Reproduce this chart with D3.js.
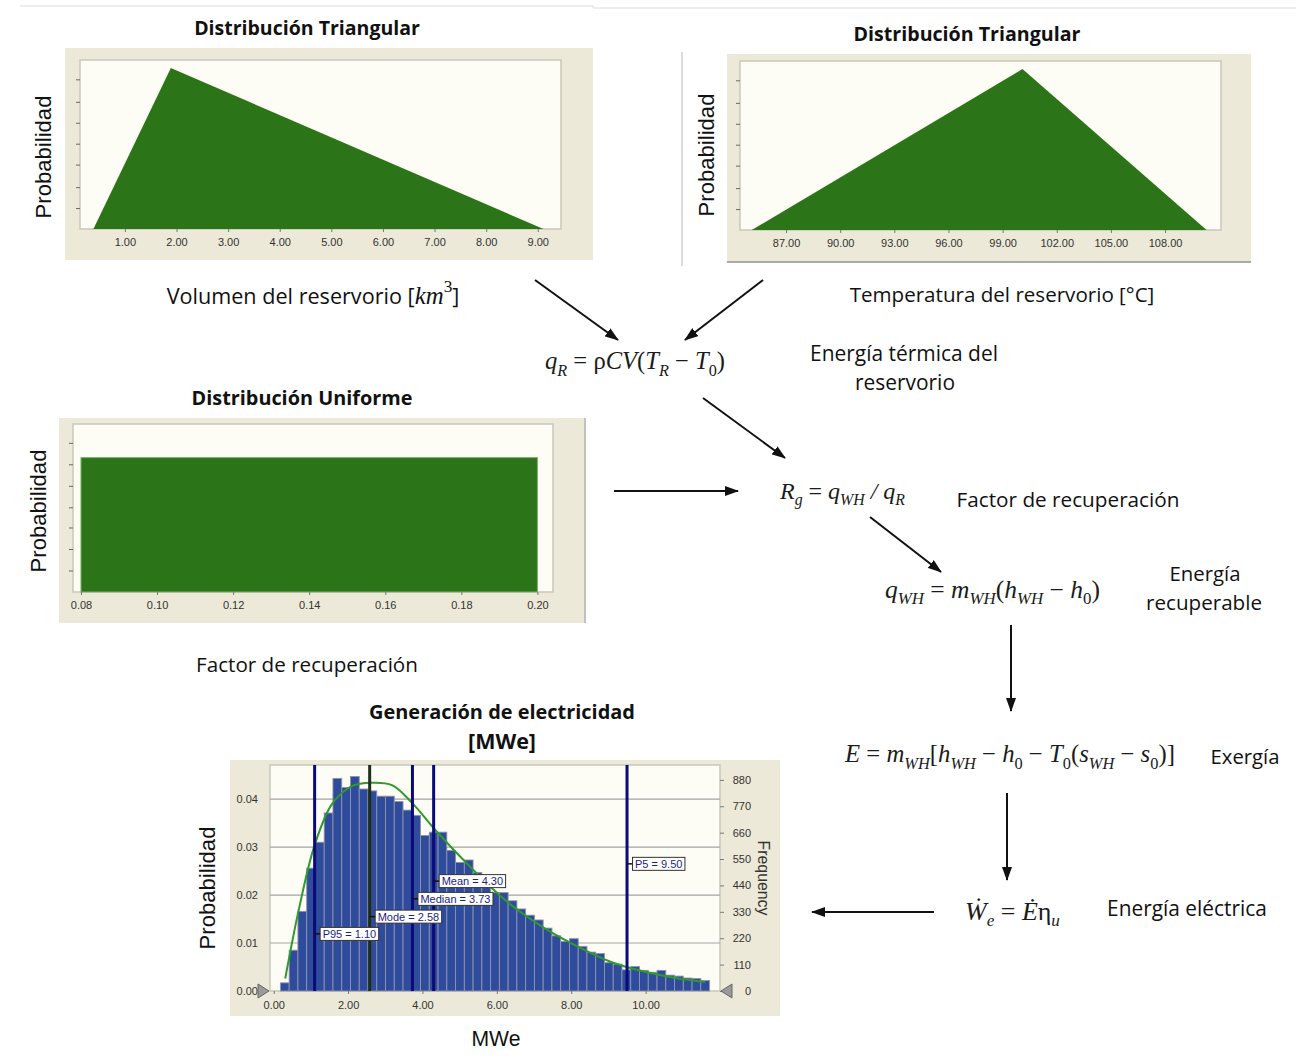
<!DOCTYPE html>
<html><head><meta charset="utf-8">
<script src="https://cdn.jsdelivr.net/npm/d3@7"></script>
<style>body{margin:0;background:#fff} text{white-space:pre}</style>
</head><body>
<svg id="c" width="1296" height="1064" xmlns="http://www.w3.org/2000/svg"></svg>
<script>
// ---------------- DATA ----------------
// Volume triangular distribution (km^3): min, mode, max
const volX = [0.39, 1.89, 9.11];
const volY = [0, 1, 0];
const volTicks = [1, 2, 3, 4, 5, 6, 7, 8, 9];
// Temperature triangular distribution (°C)
const tempX = [85.1, 100.1, 110.3];
const tempY = [0, 1, 0];
const tempTicks = [87, 90, 93, 96, 99, 102, 105, 108];
// Recovery factor uniform distribution
const rfX = [0.08, 0.20];
const rfY = 1;
const rfTicks = [0.08, 0.10, 0.12, 0.14, 0.16, 0.18, 0.20];
// Hidden y tick marks of the density panels
const triYTicks = [0.13, 0.26, 0.40, 0.53, 0.66, 0.79, 0.93];
const uniYTicks = [0.16, 0.32, 0.48, 0.63, 0.79, 0.95, 1.11];

// Electricity generation histogram (MWe)
const binStart = 0.18, binWidth = 0.2355;
const histProb = [0.0017,0.0085,0.0166,0.0256,0.0310,0.0371,0.0443,0.0424,0.0447,0.0421,
  0.0417,0.0406,0.0406,0.0395,0.0377,0.0366,0.0324,0.0331,0.0331,0.0293,
  0.0268,0.0273,0.0247,0.0232,0.0205,0.0205,0.0188,0.0171,0.0158,0.0148,
  0.0131,0.0115,0.0103,0.0109,0.0093,0.0081,0.0078,0.0059,0.0056,0.0044,
  0.0051,0.0043,0.0039,0.0043,0.0033,0.0031,0.0027,0.0026,0.0022];
const fitX = [0.31,0.67,1.10,1.57,2.10,2.64,3.18,3.72,4.35,5.33,6.23,7.30,8.19,9.09,9.98,10.88,11.60];
const fitY = [0.0026,0.0168,0.0304,0.0390,0.0427,0.0434,0.0429,0.0392,0.0335,0.0255,0.0189,0.0130,0.0092,0.0060,0.0040,0.0026,0.0019];
const statNames = ["P95", "Mode", "Median", "Mean", "P5"];
const statValues = [1.10, 2.58, 3.73, 4.30, 9.50];
const statLabelY = [0.0119, 0.0155, 0.0192, 0.0229, 0.0265];
const histXTicks = [0, 2, 4, 6, 8, 10];
const histYTicks = [0, 0.01, 0.02, 0.03, 0.04];
const freqTicks = [0, 110, 220, 330, 440, 550, 660, 770, 880];

// ---------------- STYLE ----------------
const BEIGE = '#ECE9D8', CREAM = '#FDFCF5', GREEN = '#2C7418', PLOTBORDER = '#C9C7BA';
const SANS = '"Liberation Sans", Arial, sans-serif';
const UI = '"Open Sans", "Noto Sans", sans-serif';
const SERIF = '"Liberation Serif", "DejaVu Serif", serif';

const svg = d3.select('#c');
const defs = svg.append('defs');
defs.append('marker').attr('id', 'ah').attr('viewBox', '0 0 14 10')
  .attr('refX', 13).attr('refY', 5).attr('markerWidth', 7).attr('markerHeight', 5)
  .attr('orient', 'auto').append('path').attr('d', 'M0,0L14,5L0,10Z').attr('fill', '#111');

// faint frame lines of the composite image
svg.append('path').attr('d', 'M20,6H593V8H1296').attr('fill', 'none').attr('stroke', '#dcdcdc');
svg.append('line').attr('x1', 682).attr('x2', 682).attr('y1', 52).attr('y2', 266).attr('stroke', '#d0d0d0').attr('stroke-width', 1.5);

function fitText(sel, w, base) {
  sel.attr('font-size', base);
  const l = sel.node().getComputedTextLength();
  sel.attr('font-size', base * w / l);
  return sel;
}
function label(txt, cx, cy, w, opts = {}) {
  const t = svg.append('text').attr('x', cx).attr('y', cy)
    .attr('text-anchor', 'middle').attr('dominant-baseline', 'central')
    .attr('font-family', opts.family || UI).attr('font-weight', opts.bold ? 700 : 400)
    .attr('fill', opts.fill || '#111').text(txt);
  fitText(t, w, 20);
  if (opts.rotate) t.attr('transform', `rotate(${opts.rotate},${cx},${cy})`);
  return t;
}

function densityPanel(cfg) {
  const g = svg.append('g');
  g.append('rect').attr('x', cfg.panel[0]).attr('y', cfg.panel[1])
    .attr('width', cfg.panel[2] - cfg.panel[0]).attr('height', cfg.panel[3] - cfg.panel[1]).attr('fill', BEIGE);
  const [px0, py0, px1, py1] = cfg.plot;
  const x = d3.scaleLinear().domain(cfg.xDomain).range([px0, px1]);
  const y = d3.scaleLinear().domain([0, cfg.yMax]).range([py1, py0]);
  g.append('rect').attr('x', px0).attr('y', py0).attr('width', px1 - px0).attr('height', py1 - py0)
    .attr('fill', CREAM).attr('stroke', PLOTBORDER).attr('stroke-width', 1.5);
  if (cfg.area) {
    g.append('path').datum(cfg.area)
      .attr('d', d3.area().x(d => x(d[0])).y0(y(0)).y1(d => y(d[1])))
      .attr('fill', GREEN);
  } else {
    g.append('rect').attr('x', x(cfg.rect[0])).attr('y', y(cfg.rect[2]))
      .attr('width', x(cfg.rect[1]) - x(cfg.rect[0])).attr('height', y(0) - y(cfg.rect[2]))
      .attr('fill', GREEN).attr('stroke', '#7fae6c').attr('stroke-width', 1);
  }
  const ax = g.append('g').attr('transform', `translate(0,${py1})`)
    .call(d3.axisBottom(x).tickValues(cfg.ticks).tickFormat(d3.format(cfg.fmt)).tickSize(3).tickPadding(6));
  ax.select('.domain').remove();
  ax.selectAll('line').attr('stroke', '#777');
  ax.selectAll('text').attr('font-family', SANS).attr('font-size', 11).attr('fill', '#333');
  const ay = g.append('g').attr('transform', `translate(${px0},0)`)
    .call(d3.axisLeft(y).tickValues(cfg.yTicks).tickFormat('').tickSize(4));
  ay.select('.domain').remove();
  ay.selectAll('line').attr('stroke', '#666');
}

// Top-left: volume
densityPanel({ panel: [65, 48, 593, 260], plot: [80, 60, 561, 229], xDomain: [0.13, 9.45], yMax: 1.05,
  area: volX.map((v, i) => [v, volY[i]]), ticks: volTicks, fmt: '.2f', yTicks: triYTicks });
// Top-right: temperature
densityPanel({ panel: [727, 54, 1251, 262], plot: [740, 61, 1221, 230], xDomain: [84.45, 111.1], yMax: 1.05,
  area: tempX.map((v, i) => [v, tempY[i]]), ticks: tempTicks, fmt: '.2f', yTicks: triYTicks });
svg.append('line').attr('x1', 727).attr('x2', 1251).attr('y1', 262).attr('y2', 262).attr('stroke', '#a9a9a9').attr('stroke-width', 2);
// Uniform: recovery factor
densityPanel({ panel: [59, 418, 586, 623], plot: [73, 424, 553, 592], xDomain: [0.0779, 0.2041], yMax: 1.25,
  rect: [rfX[0], rfX[1], rfY], ticks: rfTicks, fmt: '.2f', yTicks: uniYTicks });
svg.append('line').attr('x1', 585).attr('x2', 585).attr('y1', 418).attr('y2', 623).attr('stroke', '#b5b5b5').attr('stroke-width', 1.5);

// ---------------- Histogram ----------------
const hg = svg.append('g');
hg.append('rect').attr('x', 230).attr('y', 760).attr('width', 550).attr('height', 256).attr('fill', BEIGE);
const hx = d3.scaleLinear().domain([-0.1, 12.0]).range([270, 720]);
const hy = d3.scaleLinear().domain([0, 0.0471]).range([991, 765]);
const hf = d3.scaleLinear().domain([0, 942]).range([991, 765]);
hg.append('rect').attr('x', 270).attr('y', 765).attr('width', 450).attr('height', 226)
  .attr('fill', CREAM).attr('stroke', PLOTBORDER).attr('stroke-width', 1.5);
hg.append('g').selectAll('line').data(histYTicks.slice(1)).join('line')
  .attr('x1', 270).attr('x2', 720).attr('y1', d => hy(d)).attr('y2', d => hy(d))
  .attr('stroke', '#a4a4a4').attr('stroke-width', 1.2);
hg.append('g').selectAll('rect').data(histProb).join('rect')
  .attr('x', (d, i) => hx(binStart + i * binWidth)).attr('width', hx(binWidth) - hx(0))
  .attr('y', d => hy(d)).attr('height', d => hy(0) - hy(d))
  .attr('fill', '#2F4B9C').attr('stroke', '#8E93AE').attr('stroke-width', 0.9);
hg.append('path').datum(fitX.map((v, i) => [v, fitY[i]]))
  .attr('d', d3.line().x(d => hx(d[0])).y(d => hy(d[1])).curve(d3.curveCatmullRom))
  .attr('fill', 'none').attr('stroke', '#2E9A2E').attr('stroke-width', 2);
statValues.forEach((v, i) => {
  hg.append('line').attr('x1', hx(v)).attr('x2', hx(v)).attr('y1', 765).attr('y2', 991)
    .attr('stroke', statNames[i] === 'Mode' ? '#1E2E1A' : '#0A0A78').attr('stroke-width', 3);
});
statValues.forEach((v, i) => {
  const lx = hx(v), ly = hy(statLabelY[i]);
  const txt = hg.append('text').attr('x', lx + 8).attr('y', ly).attr('dominant-baseline', 'central')
    .attr('font-family', SANS).attr('font-size', 11).attr('fill', '#1C1C88')
    .text(`${statNames[i]} = ${v.toFixed(2)}`);
  const w = txt.node().getComputedTextLength();
  hg.insert('rect', () => txt.node()).attr('x', lx + 5.5).attr('y', ly - 6.5).attr('width', w + 5).attr('height', 13)
    .attr('fill', '#fff').attr('stroke', '#333').attr('stroke-width', 1);
  hg.append('line').attr('x1', lx).attr('x2', lx + 5.5).attr('y1', ly).attr('y2', ly).attr('stroke', '#111').attr('stroke-width', 1.5);
});
const hax = hg.append('g').attr('transform', 'translate(0,991)')
  .call(d3.axisBottom(hx).tickValues(histXTicks).tickFormat(d3.format('.2f')).tickSize(3).tickPadding(7));
hax.select('.domain').remove();
hax.selectAll('line').attr('stroke', '#777');
hax.selectAll('text').attr('font-family', SANS).attr('font-size', 11).attr('fill', '#333');
const hay = hg.append('g').attr('transform', 'translate(270,0)')
  .call(d3.axisLeft(hy).tickValues(histYTicks).tickFormat(d3.format('.2f')).tickSize(0).tickPadding(12));
hay.select('.domain').remove();
hay.selectAll('text').attr('font-family', SANS).attr('font-size', 11).attr('fill', '#333');
const haf = hg.append('g').attr('transform', 'translate(720,0)')
  .call(d3.axisRight(hf).tickValues(freqTicks).tickSize(4).tickPadding(5));
haf.select('.domain').remove();
haf.selectAll('line').attr('stroke', '#777');
haf.selectAll('text').attr('font-family', SANS).attr('font-size', 11).attr('fill', '#333')
  .attr('text-anchor', 'end').attr('x', 31);
// slider markers
hg.append('path').attr('d', 'M258,984L269,991L258,998Z').attr('fill', '#9a9a9a').attr('stroke', '#666');
hg.append('path').attr('d', 'M732,984L721,991L732,998Z').attr('fill', '#9a9a9a').attr('stroke', '#666');
const fq = hg.append('text').attr('x', 763).attr('y', 878).attr('text-anchor', 'middle').attr('dominant-baseline', 'central')
  .attr('font-family', SANS).attr('fill', '#333').text('Frequency');
fitText(fq, 75, 15).attr('transform', 'rotate(90,763,878)');

// ---------------- Titles & labels ----------------
label('Distribución Triangular', 307, 27, 226, { bold: true });
label('Distribución Triangular', 967, 33, 227, { bold: true });
label('Distribución Uniforme', 302, 397, 221, { bold: true });
label('Generación de electricidad', 502, 711, 266, { bold: true });
label('[MWe]', 502, 740, 68, { bold: true });
label('Probabilidad', 43, 157, 123, { family: SANS, rotate: -90 });
label('Probabilidad', 706, 155, 123, { family: SANS, rotate: -90 });
label('Probabilidad', 38, 511, 123, { family: SANS, rotate: -90 });
label('Probabilidad', 207, 888, 123, { family: SANS, rotate: -90 });
label('MWe', 496, 1038, 49, { family: SANS });

// volume label with km^3
{
  const t = svg.append('text').attr('x', 313).attr('y', 295).attr('text-anchor', 'middle')
    .attr('dominant-baseline', 'central').attr('font-family', UI).attr('fill', '#111');
  t.append('tspan').text('Volumen del reservorio [');
  t.append('tspan').attr('font-family', SERIF).attr('font-style', 'italic').attr('font-size', '115%').text('km');
  t.append('tspan').attr('font-family', SERIF).attr('font-size', '80%').attr('dy', '-0.5em').text('3');
  t.append('tspan').attr('dy', '0.4em').text(']');
  fitText(t, 293, 20);
}
label('Temperatura del reservorio [°C]', 1002, 294, 305);
label('Factor de recuperación', 307, 664, 222);
label('Energía térmica del', 904, 353, 188);
label('reservorio', 905, 382, 100);
label('Factor de recuperación', 1068, 499, 223);
label('Energía', 1205, 573, 71);
label('recuperable', 1204, 602, 116);
label('Exergía', 1245, 756, 69);
label('Energía eléctrica', 1187, 908, 160);

// ---------------- Formulas ----------------
function formula(parts, x0, cy, w) {
  const g = svg.append('text').attr('font-family', SERIF).attr('fill', '#1b1b1b');
  function build(s) {
    g.selectAll('*').remove();
    g.attr('font-size', s).attr('x', x0).attr('y', cy + 0.3 * s);
    let shift = 0;
    parts.forEach(([t, st]) => {
      const sub = st.includes('b'), it = st.includes('i');
      const target = sub ? 0.25 * s : 0;
      g.append('tspan').text(t).attr('dy', target - shift)
        .attr('font-style', it ? 'italic' : 'normal').attr('font-size', sub ? 0.66 * s : s);
      shift = target;
    });
  }
  build(26);
  const l = g.node().getComputedTextLength();
  build(26 * w / l);
}
formula([['q','i'],['R','bi'],[' = ',''],['ρ',''],['CV','i'],['(',''],['T','i'],['R','bi'],[' − ',''],['T','i'],['0','b'],[')','']], 545, 362, 180);
formula([['R','i'],['g','bi'],[' = ',''],['q','i'],['WH','bi'],[' / ','i'],['q','i'],['R','bi']], 780, 492, 125);
formula([['q','i'],['WH','bi'],[' = ',''],['m','i'],['WH','bi'],['(',''],['h','i'],['WH','bi'],[' − ',''],['h','i'],['0','b'],[')','']], 885, 590, 215);
formula([['E','i'],[' = ',''],['m','i'],['WH','bi'],['[',''],['h','i'],['WH','bi'],[' − ',''],['h','i'],['0','b'],[' − ',''],['T','i'],['0','b'],['(',''],['s','i'],['WH','bi'],[' − ',''],['s','i'],['0','b'],[')]','']], 845, 755, 330);
formula([['Ẇ','i'],['e','bi'],[' = ',''],['Ė','i'],['η',''],['u','bi']], 965, 912, 95);

// ---------------- Arrows ----------------
const arrows = [[535,280,618,340],[763,280,685,340],[703,398,785,458],[614,491,738,491],
  [870,517,941,572],[1011,625,1011,711],[1007,793,1007,880],[934,912,812,912]];
svg.append('g').selectAll('line').data(arrows).join('line')
  .attr('x1', d => d[0]).attr('y1', d => d[1]).attr('x2', d => d[2]).attr('y2', d => d[3])
  .attr('stroke', '#111').attr('stroke-width', 2).attr('marker-end', 'url(#ah)');
</script>
</body></html>
